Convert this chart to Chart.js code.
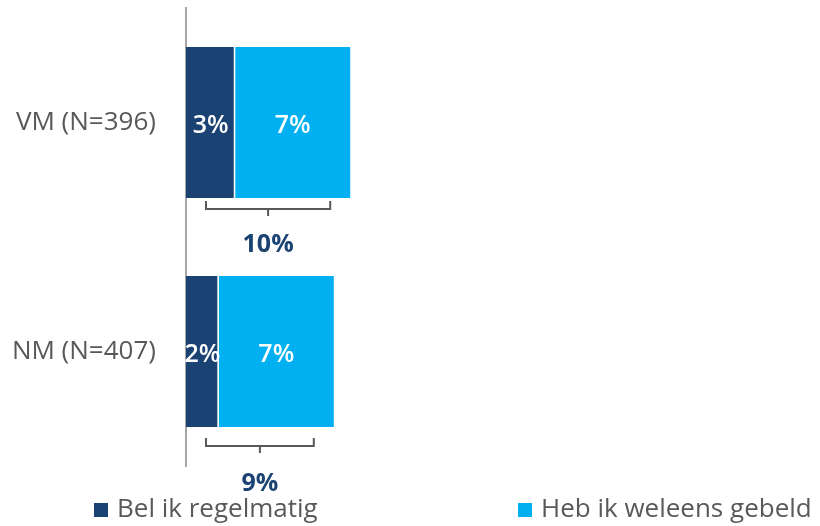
<!DOCTYPE html>
<html lang="nl">
<head>
<meta charset="UTF-8">
<title>Bellen</title>
<script src="https://cdn.jsdelivr.net/npm/chart.js"></script>
<style>
  html, body { margin: 0; padding: 0; background: #fff; }
  #wrap { width: 820px; height: 526px; position: relative; }
</style>
</head>
<body>
<div id="wrap"><canvas id="chart"></canvas></div>
<script>
const categories = ['VM (N=396)', 'NM (N=407)'];
const belRegelmatig = [3, 2];
const hebWeleens = [7, 7];
const seriesNames = ['Bel ik regelmatig', 'Heb ik weleens gebeld'];
const seriesColors = ['#1a4273', '#00b0f0'];

const textGrey = '#595959';
const fontFamily = '"Open Sans", sans-serif';

// labels inside the segments, bracket + total under every bar
const barLabels = {
  id: 'barLabels',
  afterDatasetsDraw(chart) {
    const ctx = chart.ctx;
    const xs = chart.scales.x;
    ctx.save();
    ctx.textAlign = 'center';
    ctx.textBaseline = 'middle';
    ctx.font = '600 25px ' + fontFamily;
    ctx.fillStyle = '#fff';
    chart.data.datasets.forEach((ds, di) => {
      chart.getDatasetMeta(di).data.forEach((bar, i) => {
        const left = Math.min(bar.x, bar.base);
        const right = Math.max(bar.x, bar.base);
        ctx.fillText(ds.data[i] + '%', (left + right) / 2, bar.y + 3);
      });
    });

    const gaps = [3, 11];
    const labelGaps = [47, 57];
    chart.getDatasetMeta(0).data.forEach((bar, i) => {
      const total = belRegelmatig[i] + hebWeleens[i];
      const bottom = bar.y + bar.height / 2;
      const x0 = xs.getPixelForValue(0) + 20;
      const x1 = xs.getPixelForValue(total) - 20;
      const top = bottom + gaps[i];
      const mid = top + 8;
      ctx.strokeStyle = textGrey;
      ctx.lineWidth = 2;
      ctx.beginPath();
      ctx.moveTo(x0, top);
      ctx.lineTo(x0, mid);
      ctx.lineTo(x1, mid);
      ctx.lineTo(x1, top);
      ctx.moveTo((x0 + x1) / 2, mid);
      ctx.lineTo((x0 + x1) / 2, mid + 7);
      ctx.stroke();
      ctx.font = 'bold 25px ' + fontFamily;
      ctx.fillStyle = seriesColors[0];
      ctx.fillText(total + '%', (x0 + x1) / 2, bottom + labelGaps[i]);
    });
    ctx.restore();
  }
};

// legend along the bottom edge
const bottomLegend = {
  id: 'bottomLegend',
  afterDraw(chart) {
    const ctx = chart.ctx;
    const boxX = [94, 518];
    const y = 510;
    ctx.save();
    ctx.font = '26px ' + fontFamily;
    ctx.textBaseline = 'middle';
    ctx.textAlign = 'left';
    seriesNames.forEach((name, i) => {
      ctx.fillStyle = seriesColors[i];
      ctx.fillRect(boxX[i], y - 7, 14, 14);
      ctx.fillStyle = textGrey;
      ctx.fillText(name, boxX[i] + 23, y);
    });
    ctx.restore();
  }
};

function draw() {
  new Chart(document.getElementById('chart'), {
    type: 'bar',
    data: {
      labels: categories,
      datasets: [
        {
          label: seriesNames[0],
          data: belRegelmatig,
          backgroundColor: seriesColors[0],
          borderColor: '#fff',
          borderWidth: { left: 0, top: 0, bottom: 0, right: 1.5 },
          borderSkipped: false
        },
        {
          label: seriesNames[1],
          data: hebWeleens,
          backgroundColor: seriesColors[1],
          borderWidth: 0
        }
      ]
    },
    options: {
      indexAxis: 'y',
      responsive: true,
      maintainAspectRatio: false,
      animation: false,
      layout: { padding: { top: 8, right: 10, bottom: 60, left: 0 } },
      datasets: { bar: { categoryPercentage: 1, barPercentage: 0.66 } },
      scales: {
        x: { stacked: true, display: false, min: 0, max: 38 },
        y: {
          stacked: true,
          grid: { display: false },
          border: { display: true, color: '#a6a6a6', width: 2 },
          ticks: { color: textGrey, font: { family: fontFamily, size: 26 }, padding: 22 },
          afterFit(scale) {
            scale.width = 186;
            scale.paddingTop = 0;
            scale.paddingBottom = 0;
          }
        }
      },
      plugins: {
        legend: { display: false },
        tooltip: { enabled: false }
      }
    },
    plugins: [barLabels, bottomLegend]
  });
}

Promise.all([
  document.fonts.load('26px "Open Sans"'),
  document.fonts.load('600 25px "Open Sans"'),
  document.fonts.load('bold 25px "Open Sans"')
]).then(draw, draw);
</script>
</body>
</html>
